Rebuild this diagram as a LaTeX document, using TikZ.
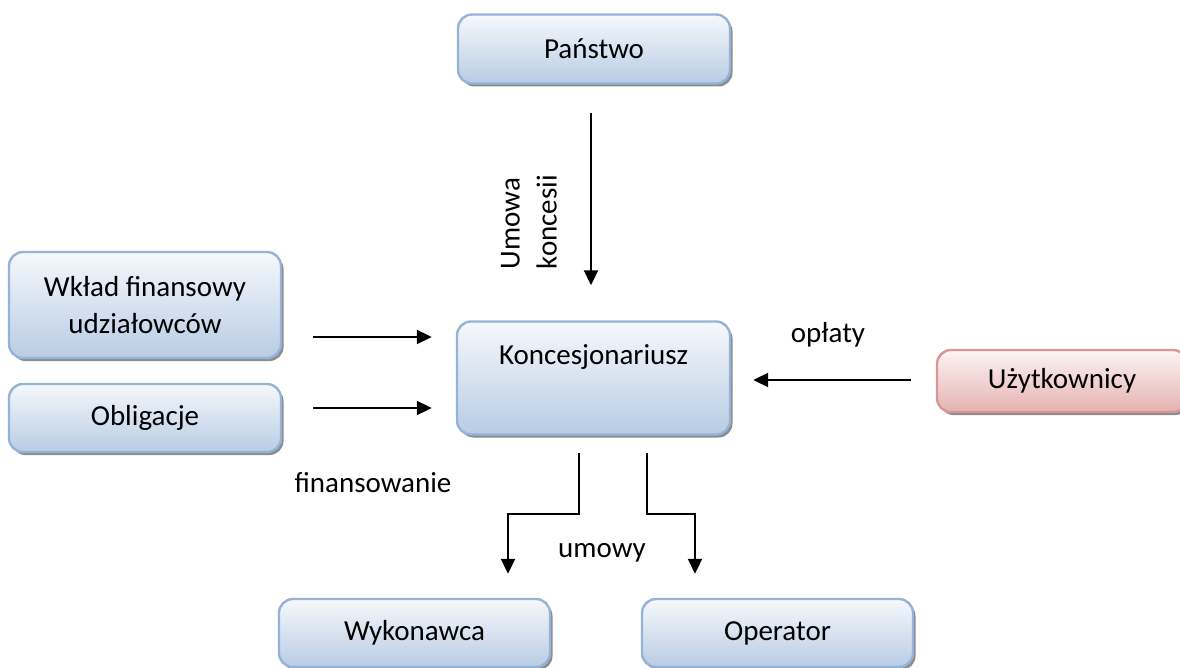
\documentclass[tikz,border=0pt]{standalone}
\usepackage{fontspec}
\setmainfont{Carlito}
\usetikzlibrary{arrows.meta,shadows,calc}

\definecolor{boxtop}{RGB}{246,248,252}
\definecolor{boxbot}{RGB}{184,204,228}
\definecolor{boxline}{RGB}{149,179,215}
\definecolor{redtop}{RGB}{252,244,244}
\definecolor{redbot}{RGB}{229,178,177}
\definecolor{redline}{RGB}{217,150,148}

\tikzset{
  box/.style={rounded corners=14pt, line width=2.4pt, draw=boxline,
    top color=boxtop, bottom color=boxbot,
    general shadow={shadow xshift=2.5pt, shadow yshift=-3pt, fill=black!45},
    align=center, inner sep=0pt, font=\fontsize{29}{37}\selectfont},
  redbox/.style={box, draw=redline, top color=redtop, bottom color=redbot},
  lbl/.style={font=\fontsize{29}{37}\selectfont, inner sep=0pt},
  arr/.style={line width=2pt, -{Triangle[length=15pt,width=14pt]}}
}

\begin{document}
\begin{tikzpicture}[x=1pt,y=-1pt]
\useasboundingbox (0,0) rectangle (1180,668);

% parties
\node[box, minimum width=272pt, minimum height=69pt] (pan) at (594,49) {Państwo};
\node[box, minimum width=272pt, minimum height=106pt] (wk) at (145,305) {Wkład finansowy\\udziałowców};
\node[box, minimum width=272pt, minimum height=68pt] (ob) at (145,418) {Obligacje};
\node[box, minimum width=273pt, minimum height=113pt] (kon) at (593.5,378) {};
\node[lbl] (kontxt) at (593.5,357) {Koncesjonariusz};
\node[redbox, minimum width=250pt, minimum height=62pt] (uz) at (1062,381) {Użytkownicy};
\node[box, minimum width=271pt, minimum height=68pt] (wyk) at (414.5,633) {Wykonawca};
\node[box, minimum width=271pt, minimum height=68pt] (op) at (777.5,633) {Operator};

% flows
\draw[arr, shorten <=28pt, shorten >=35pt] ([xshift=-3pt]pan.south) -- ([xshift=-2.5pt]kon.north);
\draw[arr, shorten <=31pt, shorten >=24pt] ([yshift=-32pt]wk.east) -- ([yshift=-32pt]kon.west |- wk.east);
\draw[arr, shorten <=31pt, shorten >=24pt] ([yshift=10pt]ob.east) -- ([yshift=10pt]kon.west |- ob.east);
\draw[arr, shorten <=25pt, shorten >=22pt] ([yshift=1pt]uz.west) -- ([yshift=1pt]kon.east |- uz.west);
\draw[arr] ([xshift=-15pt,yshift=-17pt]kon.south) -- ++(0,61) -| ([xshift=93.5pt,yshift=24pt]wyk.north);
\draw[arr] ([xshift=53.5pt,yshift=-17pt]kon.south) -- ++(0,61) -| ([xshift=-82.5pt,yshift=24pt]op.north);

% flow labels
\node[lbl, rotate=90, align=left] (umk) at (529,222) {Umowa\\koncesii};
\node[lbl] (opl) at (828,335) {opłaty};
\node[lbl] (fin) at (373,483) {finansowanie};
\node[lbl] (umo) at (602,553) {umowy};
\end{tikzpicture}
\end{document}
